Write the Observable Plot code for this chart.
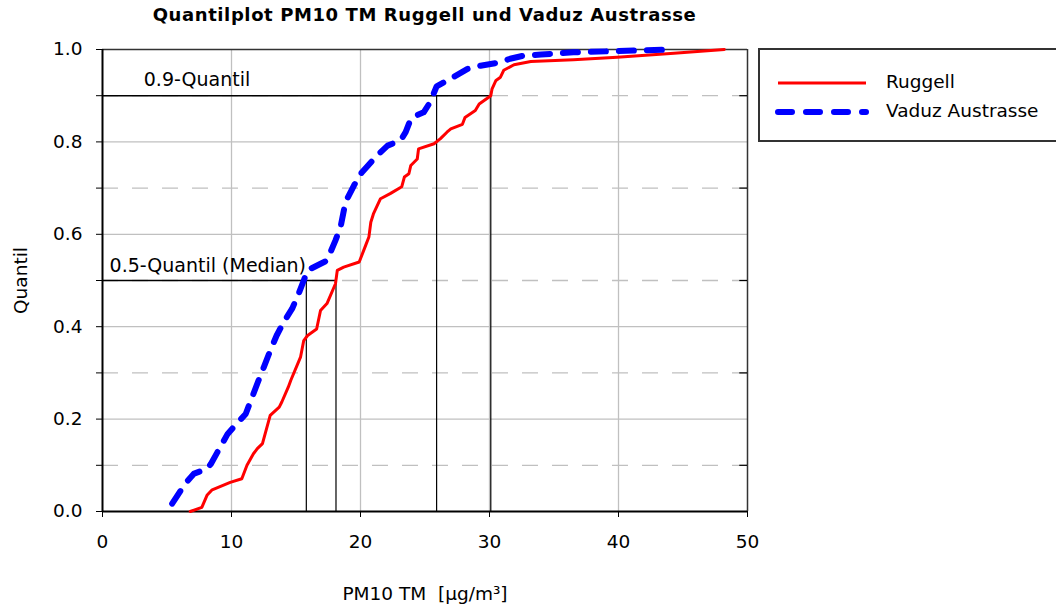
<!DOCTYPE html>
<html>
<head>
<meta charset="utf-8">
<script src="https://cdn.jsdelivr.net/npm/d3@7"></script>
<script src="https://cdn.jsdelivr.net/npm/@observablehq/plot@0.6"></script>
<style>
  body { margin:0; background:white; font-family:"DejaVu Sans", sans-serif; }
  #wrap { position:relative; width:1056px; height:610px; overflow:hidden; }
  #title { position:absolute; left:0; width:849px; top:4px; text-align:center; font-weight:bold; font-size:18px; letter-spacing:0.6px; }
  #chart { position:absolute; left:0; top:30px; }
  #legend { position:absolute; left:758px; top:48px; width:320px; height:94px; border:2px solid #333; box-sizing:border-box; }
  #legend .item { position:absolute; left:0; font-size:18.5px; }
</style>
</head>
<body>
<div id="wrap">
  <div id="title">Quantilplot PM10 TM Ruggell und Vaduz Austrasse</div>
  <div id="chart"></div>
  <div id="legend"></div>
</div>
<script>
// Ruggell quantile curve (PM10 value, quantile)
const ruggellX = [6.8,7.7,8.1,8.5,9.9,10.8,11.2,11.7,12.0,12.4,13.0,13.7,13.9,14.4,14.6,15.35,15.6,15.9,16.6,16.9,17.4,18.06,18.2,18.7,19.9,20.4,20.65,20.8,21.0,21.55,22.3,23.2,23.4,23.75,23.9,24.4,24.5,25.7,26.2,26.7,27.0,27.9,28.1,28.9,29.2,30.1,30.2,30.5,30.85,31.1,31.9,33.2,36.5,39.9,44.3,48.2];
const ruggellQ = [0.0,0.009,0.035,0.047,0.063,0.071,0.1,0.125,0.136,0.147,0.208,0.226,0.237,0.269,0.284,0.334,0.37,0.381,0.395,0.435,0.45,0.493,0.522,0.529,0.54,0.576,0.594,0.626,0.644,0.677,0.688,0.703,0.724,0.731,0.749,0.763,0.785,0.796,0.807,0.821,0.828,0.838,0.853,0.868,0.882,0.9,0.915,0.933,0.94,0.955,0.967,0.974,0.978,0.983,0.992,1.0];
// Vaduz Austrasse quantile curve
const vaduzX = [5.4,6.4,7.1,8.1,8.4,8.9,9.7,10.4,11.1,11.5,12.1,12.5,13.0,13.5,14.05,14.7,15.2,15.6,15.9,16.6,17.4,18.06,18.45,18.84,19.5,20.1,21.3,22.1,23.1,23.5,23.9,24.3,24.9,25.4,25.9,27.0,28.3,29.3,30.6,31.6,32.7,34.0,36.5,39.1,41.7,44.3];
const vaduzQ = [0.017,0.06,0.082,0.092,0.103,0.128,0.168,0.19,0.211,0.24,0.284,0.312,0.348,0.381,0.41,0.439,0.471,0.5,0.522,0.532,0.543,0.587,0.615,0.67,0.706,0.734,0.771,0.792,0.803,0.821,0.85,0.857,0.864,0.886,0.92,0.937,0.958,0.965,0.971,0.98,0.987,0.989,0.994,0.996,0.998,1.0];
// quantile reference values
const medianValues = [15.8, 18.1];
const q90Values = [25.9, 30.1];
const quantileLevels = [0.5, 0.9];
const quantileMax = [18.1, 30.1];
const annotations = ["0.9-Quantil", "0.5-Quantil (Median)"];
const annotationX = [3.2, 0.55];
const annotationY = [0.935, 0.532];
// ticks
const xTicks = [0,10,20,30,40,50];
const xGrid = [10,20,30,40];
const yTicks = [0,0.2,0.4,0.6,0.8,1.0];
const yMinor = [0.1,0.3,0.5,0.7,0.9];
const yGridMajor = [0.2,0.4,0.6,0.8];

const ruggell = ruggellX.map((x,i)=>({x, q:ruggellQ[i]}));
const vaduz = vaduzX.map((x,i)=>({x, q:vaduzQ[i]}));
const vRules = medianValues.map(x=>({x, q:0.5})).concat(q90Values.map(x=>({x, q:0.9})));
const hRules = quantileLevels.map((q,i)=>({q, x2:quantileMax[i]}));
const notes = annotations.map((t,i)=>({t, x:annotationX[i], q:annotationY[i]}));

const grid = "#c0c0c0";
const chart = Plot.plot({
  width:1056, height:580,
  marginLeft:102, marginRight:309, marginTop:19, marginBottom:99,
  x:{domain:[0,50]},
  y:{domain:[0,1]},
  style:{fontFamily:"DejaVu Sans, sans-serif", fontSize:"18px", background:"transparent", color:"black"},
  marks:[
    Plot.gridX(xGrid, {stroke:grid, strokeOpacity:1, strokeWidth:1.3}),
    Plot.gridY(yGridMajor, {stroke:grid, strokeOpacity:1, strokeWidth:1.3}),
    Plot.gridY(yMinor, {stroke:grid, strokeOpacity:1, strokeWidth:1.3, strokeDasharray:"16,14"}),
    Plot.ruleY([1], {stroke:"#333", strokeWidth:1.5}),
    Plot.ruleX([50], {stroke:"#333", strokeWidth:1.5}),
    Plot.ruleY(yMinor, {x1:49.4, x2:50, stroke:"black", strokeWidth:1.2}),
    Plot.ruleX(vRules, {x:"x", y1:0, y2:"q", stroke:"black", strokeWidth:1.2}),
    Plot.ruleY(hRules, {y:"q", x1:0, x2:"x2", stroke:"black", strokeWidth:1.5}),
    Plot.axisY(yMinor, {tickSize:6, tickFormat:()=>"", label:null}),
    Plot.axisY(yTicks, {tickSize:6, tickPadding:14, fontSize:18.5, tickFormat:d3.format(".1f"), label:"Quantil", labelAnchor:"center", labelOffset:89, labelArrow:"none"}),
    Plot.axisX(xTicks, {tickSize:6, tickPadding:17, fontSize:18.5, label:"PM10 TM\u00a0\u00a0[µg/m³]", labelAnchor:"center", labelOffset:88, labelArrow:"none"}),
    Plot.ruleY([0], {stroke:"black", strokeWidth:2}),
    Plot.ruleX([0], {stroke:"black", strokeWidth:2}),
    Plot.text(notes, {x:"x", y:"q", text:"t", textAnchor:"start", fontSize:19}),
    Plot.line(ruggell, {x:"x", y:"q", stroke:"#ff0000", strokeWidth:3}),
    Plot.line(vaduz, {x:"x", y:"q", stroke:"#0000ff", strokeWidth:6, strokeDasharray:"15,13", strokeLinecap:"round"})
  ]
});
document.getElementById("chart").appendChild(chart);

// legend
const seriesNames = ["Ruggell", "Vaduz Austrasse"];
const seriesColors = ["#ff0000", "#0000ff"];
const lg = document.getElementById("legend");
seriesNames.forEach((name,i)=>{
  const top = i===0 ? 21 : 50;
  const dash = i===0 ? "" : 'stroke-dasharray="14,14" stroke-linecap="round"';
  const w = i===0 ? 3 : 6;
  lg.insertAdjacentHTML("beforeend",
    `<svg style="position:absolute;left:14px;top:${top}px" width="100" height="20"><line x1="4" x2="92" y1="12" y2="12" stroke="${seriesColors[i]}" stroke-width="${w}" ${dash}/></svg>` +
    `<div class="item" style="left:126px;top:${top}px">${name}</div>`);
});
</script>
</body>
</html>
